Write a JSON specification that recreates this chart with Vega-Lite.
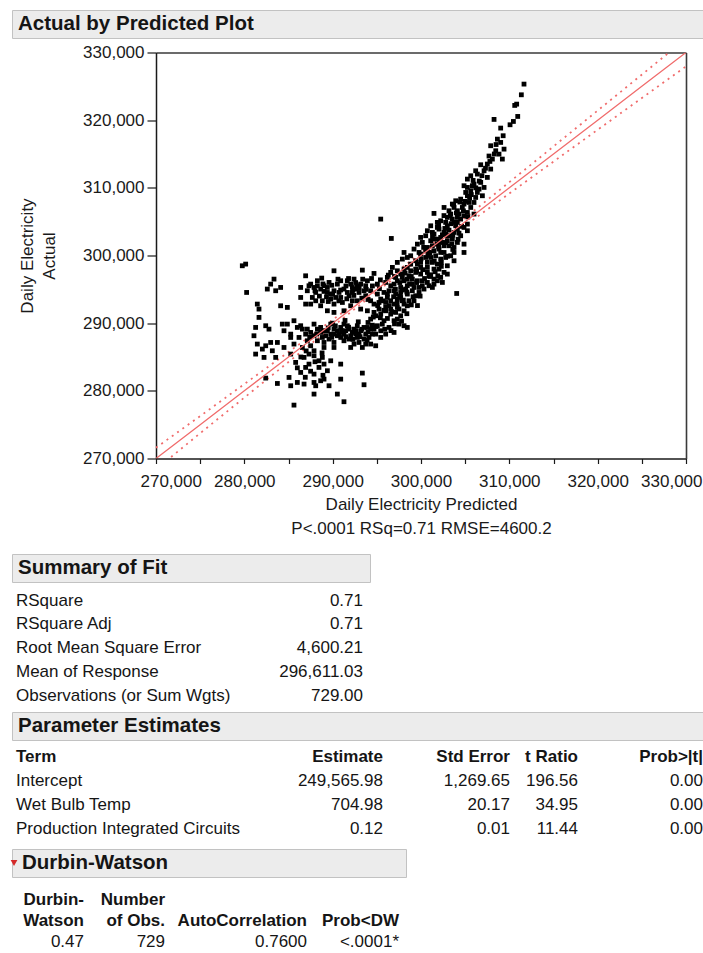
{
  "$schema": "https://vega.github.io/schema/vega-lite/v6.json",
  "background": "white",
  "padding": {"left": 10, "top": 9, "right": 0, "bottom": 0},
  "config": {
    "font": "Liberation Sans",
    "view": {"stroke": null},
    "axis": {"labelFont": "Liberation Sans", "titleFont": "Liberation Sans"},
    "text": {"font": "Liberation Sans", "color": "#151515", "fontSize": 17, "baseline": "middle"}
  },
  "datasets": {
    "obs": [
      {"pred":311660,"act":325330},{"pred":311360,"act":323750},{"pred":310830,"act":322370},{"pred":310610,"act":322180},{"pred":310950,"act":320550},
      {"pred":310460,"act":319810},{"pred":310080,"act":319320},{"pred":308270,"act":320110},{"pred":309020,"act":318830},{"pred":308650,"act":317200},
      {"pred":309020,"act":316710},{"pred":307890,"act":316220},{"pred":309400,"act":315720},{"pred":308460,"act":315480},{"pred":308830,"act":314980},
      {"pred":308080,"act":314250},{"pred":309210,"act":314250},{"pred":307510,"act":313510},{"pred":306760,"act":313410},{"pred":307890,"act":312770},
      {"pred":307140,"act":312520},{"pred":306380,"act":312030},{"pred":305630,"act":311780},{"pred":307510,"act":311540},{"pred":305250,"act":311290},
      {"pred":306760,"act":310800},{"pred":306000,"act":310550},{"pred":307140,"act":310060},{"pred":304870,"act":310310},{"pred":305630,"act":309570},
      {"pred":306380,"act":309320},{"pred":306950,"act":308830},{"pred":305250,"act":308830},{"pred":304490,"act":308330},{"pred":303930,"act":308090},
      {"pred":306000,"act":307840},{"pred":304870,"act":307600},{"pred":303740,"act":307100},{"pred":305630,"act":307100},{"pred":302610,"act":307100},
      {"pred":304120,"act":306610},{"pred":305250,"act":306360},{"pred":303360,"act":306120},{"pred":306000,"act":306120},{"pred":301470,"act":306220},
      {"pred":302980,"act":305630},{"pred":304490,"act":305380},{"pred":302230,"act":305130},{"pred":303740,"act":304890},{"pred":305250,"act":304640},
      {"pred":301100,"act":304390},{"pred":302980,"act":304390},{"pred":301850,"act":304150},{"pred":304120,"act":303900},{"pred":300720,"act":303660},
      {"pred":302610,"act":303410},{"pred":305250,"act":303660},{"pred":301470,"act":303160},{"pred":303360,"act":302920},{"pred":304490,"act":302920},
      {"pred":299960,"act":302670},{"pred":302230,"act":302670},{"pred":301100,"act":302180},{"pred":302980,"act":302180},{"pred":304120,"act":301930},
      {"pred":299590,"act":301680},{"pred":301850,"act":301680},{"pred":300720,"act":301190},{"pred":303740,"act":301190},{"pred":304870,"act":301680},
      {"pred":299210,"act":300950},{"pred":301470,"act":300700},{"pred":302610,"act":300450},{"pred":298080,"act":300450},{"pred":299960,"act":300210},
      {"pred":304870,"act":300450},{"pred":303360,"act":299960},{"pred":301100,"act":299710},{"pred":298450,"act":299710},{"pred":302230,"act":299470},
      {"pred":299400,"act":299220},{"pred":303740,"act":299220},{"pred":300720,"act":298980},{"pred":297320,"act":298980},{"pred":301850,"act":298730},
      {"pred":298830,"act":298730},{"pred":302980,"act":298480},{"pred":299960,"act":298240},{"pred":301470,"act":297990},{"pred":296760,"act":298240},
      {"pred":298080,"act":297990},{"pred":302610,"act":297500},{"pred":299400,"act":297500},{"pred":300720,"act":297500},{"pred":302230,"act":296760},
      {"pred":297700,"act":297250},{"pred":296570,"act":297500},{"pred":295440,"act":305380},{"pred":296640,"act":302520},{"pred":304040,"act":294390},
      {"pred":296190,"act":296760},{"pred":297320,"act":296270},{"pred":298450,"act":296510},{"pred":299590,"act":296270},{"pred":300720,"act":296020},
      {"pred":301850,"act":296270},{"pred":295060,"act":295770},{"pred":296570,"act":295530},{"pred":297700,"act":295280},{"pred":299210,"act":295280},
      {"pred":300340,"act":295040},{"pred":301470,"act":295770},{"pred":294300,"act":294790},{"pred":295810,"act":294540},{"pred":297130,"act":294300},
      {"pred":298450,"act":294300},{"pred":299780,"act":294540},{"pred":295440,"act":293560},{"pred":296570,"act":293310},{"pred":297890,"act":293310},
      {"pred":299210,"act":293310},{"pred":294680,"act":292820},{"pred":296000,"act":292330},{"pred":297320,"act":292330},{"pred":298450,"act":292570},
      {"pred":293930,"act":291830},{"pred":295440,"act":291340},{"pred":296570,"act":291340},{"pred":297700,"act":291090},{"pred":294300,"act":290600},
      {"pred":295810,"act":290360},{"pred":296950,"act":290360},{"pred":295060,"act":289620},{"pred":296380,"act":289370},{"pred":298080,"act":289620},
      {"pred":295440,"act":288880},{"pred":296000,"act":288380},{"pred":296950,"act":288630},{"pred":298450,"act":289370},{"pred":286940,"act":297000},
      {"pred":290150,"act":297740},{"pred":293360,"act":297840},{"pred":294680,"act":297350},{"pred":288760,"act":296660},{"pred":287510,"act":295770},
      {"pred":286380,"act":295280},{"pred":288270,"act":295530},{"pred":289400,"act":295280},{"pred":290530,"act":295770},{"pred":291660,"act":296270},
      {"pred":292420,"act":296510},{"pred":293170,"act":295770},{"pred":293930,"act":296270},{"pred":287130,"act":294790},{"pred":288080,"act":294540},
      {"pred":289020,"act":294690},{"pred":290150,"act":294790},{"pred":291280,"act":295040},{"pred":292230,"act":295280},{"pred":292980,"act":294540},
      {"pred":293740,"act":294050},{"pred":287700,"act":293800},{"pred":288830,"act":293310},{"pred":289780,"act":293560},{"pred":290910,"act":293800},
      {"pred":291850,"act":294050},{"pred":292790,"act":293310},{"pred":287510,"act":292820},{"pred":290150,"act":292820},{"pred":292040,"act":292570},
      {"pred":293170,"act":292080},{"pred":291280,"act":291830},{"pred":289400,"act":291830},{"pred":290150,"act":291590},{"pred":294300,"act":293310},
      {"pred":284870,"act":289860},{"pred":285620,"act":290360},{"pred":286380,"act":289620},{"pred":287130,"act":289120},{"pred":287890,"act":289860},
      {"pred":288640,"act":289370},{"pred":289400,"act":288880},{"pred":290150,"act":289120},{"pred":290910,"act":289370},{"pred":291660,"act":289620},
      {"pred":292420,"act":289120},{"pred":293170,"act":288880},{"pred":293930,"act":289370},{"pred":285250,"act":288380},{"pred":286190,"act":287890},
      {"pred":286940,"act":288380},{"pred":287890,"act":288140},{"pred":288830,"act":287890},{"pred":289780,"act":288380},{"pred":290530,"act":288140},
      {"pred":291280,"act":288380},{"pred":292040,"act":288140},{"pred":292790,"act":287890},{"pred":293550,"act":287650},{"pred":294300,"act":286910},
      {"pred":285620,"act":286910},{"pred":286570,"act":286410},{"pred":287510,"act":286660},{"pred":288270,"act":287400},{"pred":289020,"act":286410},
      {"pred":290150,"act":287150},{"pred":291280,"act":287400},{"pred":292420,"act":286910},{"pred":293360,"act":286410},{"pred":294110,"act":287890},
      {"pred":294870,"act":286660},{"pred":287130,"act":287400},{"pred":284490,"act":288880},{"pred":285250,"act":285430},{"pred":286760,"act":284940},
      {"pred":287890,"act":285180},{"pred":288830,"act":284940},{"pred":289780,"act":284440},{"pred":290910,"act":283950},{"pred":285810,"act":284200},
      {"pred":287320,"act":283950},{"pred":288450,"act":283460},{"pred":289400,"act":282970},{"pred":286380,"act":282720},{"pred":287890,"act":282470},
      {"pred":285060,"act":281980},{"pred":286000,"act":281240},{"pred":286760,"act":281000},{"pred":287890,"act":281240},{"pred":288640,"act":281490},
      {"pred":289590,"act":280750},{"pred":288080,"act":280750},{"pred":290910,"act":281730},{"pred":293360,"act":282620},{"pred":293550,"act":280900},
      {"pred":283740,"act":281090},{"pred":282420,"act":281880},{"pred":285250,"act":280750},{"pred":287890,"act":279520},{"pred":290530,"act":279520},
      {"pred":291280,"act":278390},{"pred":285620,"act":277890},{"pred":289020,"act":281730},{"pred":279770,"act":298480},{"pred":280150,"act":298730},
      {"pred":283360,"act":296510},{"pred":282980,"act":295770},{"pred":283550,"act":294790},{"pred":284110,"act":295280},{"pred":280260,"act":294540},
      {"pred":281470,"act":292820},{"pred":281660,"act":292080},{"pred":284110,"act":292570},{"pred":284870,"act":292330},{"pred":281660,"act":290850},
      {"pred":281280,"act":289370},{"pred":282420,"act":289620},{"pred":282790,"act":289120},{"pred":281090,"act":288140},{"pred":281470,"act":286910},
      {"pred":282980,"act":287150},{"pred":283740,"act":287150},{"pred":282420,"act":286660},{"pred":282040,"act":286170},{"pred":283170,"act":285920},
      {"pred":281280,"act":285430},{"pred":282230,"act":284940},{"pred":283550,"act":284940},{"pred":284490,"act":286410},{"pred":285250,"act":287890},
      {"pred":284300,"act":289860},{"pred":282600,"act":295040},{"pred":286380,"act":293800},{"pred":302980,"act":297250},{"pred":301470,"act":296510},
      {"pred":302420,"act":296020},{"pred":303550,"act":307600},{"pred":304680,"act":307100},{"pred":306190,"act":308580},{"pred":305440,"act":307840},
      {"pred":306570,"act":309810},{"pred":305810,"act":310310},{"pred":305060,"act":309320},{"pred":304300,"act":306120},{"pred":303550,"act":305380},
      {"pred":304870,"act":305870},{"pred":302790,"act":304890},{"pred":303930,"act":304390},{"pred":302040,"act":303900},{"pred":303170,"act":303750},
      {"pred":304870,"act":304150},{"pred":301290,"act":303410},{"pred":302420,"act":303060},{"pred":303740,"act":303410},{"pred":300530,"act":302920},
      {"pred":301850,"act":302420},{"pred":303550,"act":302420},{"pred":300150,"act":301930},{"pred":302420,"act":301930},{"pred":301290,"act":301440},
      {"pred":303170,"act":301440},{"pred":300530,"act":300700},{"pred":302040,"act":300950},{"pred":299780,"act":300450},{"pred":303740,"act":300450},
      {"pred":298830,"act":299960},{"pred":301660,"act":299960},{"pred":300530,"act":299710},{"pred":302790,"act":299710},{"pred":297890,"act":299470},
      {"pred":299960,"act":298980},{"pred":301290,"act":298980},{"pred":298450,"act":298240},{"pred":299400,"act":297990},{"pred":302040,"act":297990},
      {"pred":297320,"act":297740},{"pred":299960,"act":297250},{"pred":301100,"act":297150},{"pred":298640,"act":297000},{"pred":297130,"act":296760},
      {"pred":296000,"act":296020},{"pred":299020,"act":295770},{"pred":300150,"act":295530},{"pred":301290,"act":295280},{"pred":298260,"act":295040},
      {"pred":296950,"act":294790},{"pred":299400,"act":294050},{"pred":296190,"act":293800},{"pred":297700,"act":293800},{"pred":298640,"act":293310},
      {"pred":295250,"act":293060},{"pred":296950,"act":292820},{"pred":298080,"act":291830},{"pred":296000,"act":291830},{"pred":294870,"act":291090},
      {"pred":297320,"act":290600},{"pred":295620,"act":289860},{"pred":294680,"act":289120},{"pred":297510,"act":289860},{"pred":287890,"act":295280},
      {"pred":288640,"act":295040},{"pred":289780,"act":294300},{"pred":290720,"act":294540},{"pred":291660,"act":294540},{"pred":292610,"act":295040},
      {"pred":293550,"act":294790},{"pred":291100,"act":293060},{"pred":292230,"act":293310},{"pred":288640,"act":292570},{"pred":286940,"act":292820},
      {"pred":290530,"act":288880},{"pred":291470,"act":288880},{"pred":292230,"act":288630},{"pred":292980,"act":288380},{"pred":291850,"act":287650},
      {"pred":290910,"act":287890},{"pred":289590,"act":287650},{"pred":288640,"act":288630},{"pred":287510,"act":288630},{"pred":286570,"act":289120},
      {"pred":286000,"act":289370},{"pred":293740,"act":288380},{"pred":294490,"act":288380},{"pred":290150,"act":286410},{"pred":292040,"act":286410},
      {"pred":289020,"act":287150},{"pred":287890,"act":285920},{"pred":287320,"act":285430},{"pred":288450,"act":284440},{"pred":286940,"act":283460},
      {"pred":289020,"act":283950},{"pred":289780,"act":289860},{"pred":291280,"act":289860},{"pred":292790,"act":289620},{"pred":291850,"act":289120},
      {"pred":291100,"act":288630},{"pred":292610,"act":288380},{"pred":293550,"act":289370},{"pred":290150,"act":288380},{"pred":289210,"act":288140},
      {"pred":288270,"act":289120},{"pred":294300,"act":289120},{"pred":294870,"act":288380},{"pred":295440,"act":287890},{"pred":293740,"act":286910},
      {"pred":292980,"act":287150},{"pred":298080,"act":296270},{"pred":299020,"act":296510},{"pred":300150,"act":296270},{"pred":296950,"act":295770},
      {"pred":298450,"act":295530},{"pred":299780,"act":295280},{"pred":300910,"act":295530},{"pred":296380,"act":294790},{"pred":297700,"act":294540},
      {"pred":299020,"act":294790},{"pred":295060,"act":294300},{"pred":297320,"act":293560},{"pred":296000,"act":293060},{"pred":298080,"act":292820},
      {"pred":296570,"act":292080},{"pred":295250,"act":292080},{"pred":297130,"act":291590},{"pred":294680,"act":291590},{"pred":288270,"act":296270},
      {"pred":289590,"act":296020},{"pred":290910,"act":296270},{"pred":292040,"act":295770},{"pred":292790,"act":295530},{"pred":293740,"act":295530},
      {"pred":289020,"act":295530},{"pred":287320,"act":295530},{"pred":289400,"act":294540},{"pred":292230,"act":294540},{"pred":290340,"act":293800},
      {"pred":288080,"act":293310},{"pred":301470,"act":302420},{"pred":302610,"act":301440},{"pred":300910,"act":300450},{"pred":302230,"act":300450},
      {"pred":302980,"act":302920},{"pred":301850,"act":304890},{"pred":304120,"act":305630},{"pred":303170,"act":306610},{"pred":305250,"act":310060},
      {"pred":306190,"act":312520},{"pred":299590,"act":298730},{"pred":300720,"act":298240},{"pred":298830,"act":297740},{"pred":297890,"act":296760},
      {"pred":296300,"act":297100},{"pred":297000,"act":296900},{"pred":297600,"act":296000},{"pred":298200,"act":297400},{"pred":298900,"act":296900},
      {"pred":299500,"act":297700},{"pred":300200,"act":297900},{"pred":300900,"act":297000},{"pred":301600,"act":297600},{"pred":302300,"act":298400},
      {"pred":297100,"act":295000},{"pred":297900,"act":294900},{"pred":298700,"act":295800},{"pred":299500,"act":296000},{"pred":300400,"act":296600},
      {"pred":301000,"act":296900},{"pred":301900,"act":297000},{"pred":296200,"act":294300},{"pred":296900,"act":293900},{"pred":297600,"act":294000},
      {"pred":298400,"act":294600},{"pred":299100,"act":293900},{"pred":299900,"act":294000},{"pred":295700,"act":293300},{"pred":296400,"act":292600},
      {"pred":297300,"act":293000},{"pred":298000,"act":293400},{"pred":298900,"act":292700},{"pred":299600,"act":292600},{"pred":295100,"act":292600},
      {"pred":295800,"act":291900},{"pred":296700,"act":291700},{"pred":297500,"act":292100},{"pred":298400,"act":291400},{"pred":294600,"act":290900},
      {"pred":295400,"act":290800},{"pred":296200,"act":290700},{"pred":297000,"act":289900},{"pred":294000,"act":290100},{"pred":294900,"act":289500},
      {"pred":295900,"act":289100},{"pred":296600,"act":288900},{"pred":297800,"act":290300},
      {"pred":300000,"act":299500},{"pred":300800,"act":300000},{"pred":301500,"act":299200},{"pred":302300,"act":299000},{"pred":303000,"act":299900},
      {"pred":303600,"act":300900},{"pred":300300,"act":301200},{"pred":301000,"act":300400},{"pred":302000,"act":301300},{"pred":302800,"act":301900},
      {"pred":303500,"act":301700},{"pred":304200,"act":302400},{"pred":301300,"act":302800},{"pred":302100,"act":302000},{"pred":302800,"act":303200},
      {"pred":303600,"act":303000},{"pred":304300,"act":303300},{"pred":302000,"act":304500},{"pred":302700,"act":304000},{"pred":303400,"act":304700},
      {"pred":304100,"act":304900},{"pred":304600,"act":304300},{"pred":302600,"act":305900},{"pred":303300,"act":305900},{"pred":304000,"act":306300},
      {"pred":304800,"act":306600},{"pred":305300,"act":305700},{"pred":303700,"act":307500},{"pred":304400,"act":307900},{"pred":305000,"act":308000},
      {"pred":305500,"act":308500},{"pred":305700,"act":309000},{"pred":306200,"act":310000},{"pred":306600,"act":311000},{"pred":305900,"act":311100},
      {"pred":306900,"act":311800},{"pred":307300,"act":312900},{"pred":307800,"act":313900},{"pred":308300,"act":315000},{"pred":307700,"act":314700},
      {"pred":308500,"act":316400},{"pred":309300,"act":317700},
      {"pred":288500,"act":294000},{"pred":289300,"act":293900},{"pred":290000,"act":294300},{"pred":290900,"act":294900},{"pred":291500,"act":295500},
      {"pred":292300,"act":294900},{"pred":293000,"act":295200},{"pred":293800,"act":295000},{"pred":294500,"act":295500},{"pred":295300,"act":295100},
      {"pred":288900,"act":295800},{"pred":289900,"act":295600},{"pred":290600,"act":296500},{"pred":291800,"act":296600},{"pred":292600,"act":296000},
      {"pred":293400,"act":296500},{"pred":294400,"act":296600},{"pred":295400,"act":296400},{"pred":288000,"act":294800},{"pred":289500,"act":293200},
      {"pred":290700,"act":293300},{"pred":291600,"act":293600},{"pred":292400,"act":294100},{"pred":293300,"act":293700},{"pred":294000,"act":293500},
      {"pred":289500,"act":289300},{"pred":290300,"act":289600},{"pred":291000,"act":288900},{"pred":291800,"act":289400},{"pred":292600,"act":288900},
      {"pred":293300,"act":289100},{"pred":294000,"act":288700},{"pred":290700,"act":288300},{"pred":291500,"act":288000},{"pred":292300,"act":287600},
      {"pred":293100,"act":288000},{"pred":293900,"act":287500},{"pred":289900,"act":287900},{"pred":288900,"act":288900},{"pred":290000,"act":290000},
      {"pred":291400,"act":290400},{"pred":292900,"act":290200},{"pred":294500,"act":289700},{"pred":288200,"act":288400},{"pred":287400,"act":287900},
      {"pred":286400,"act":285000},{"pred":287000,"act":285900},{"pred":288000,"act":284300},{"pred":288800,"act":285600},{"pred":286000,"act":283400},
      {"pred":287500,"act":282900},{"pred":288900,"act":282300},{"pred":286900,"act":282000}
    ],
    "curve": [
      {"pred":270000,"fit":270000,"upper":271600,"lower":268400},
      {"pred":275000,"fit":275000,"upper":276270,"lower":273730},
      {"pred":280000,"fit":280000,"upper":281000,"lower":279000},
      {"pred":285000,"fit":285000,"upper":285740,"lower":284260},
      {"pred":290000,"fit":290000,"upper":290500,"lower":289500},
      {"pred":293000,"fit":293000,"upper":293390,"lower":292610},
      {"pred":296611,"fit":296611,"upper":296950,"lower":296270},
      {"pred":300000,"fit":300000,"upper":300390,"lower":299610},
      {"pred":305000,"fit":305000,"upper":305580,"lower":304420},
      {"pred":310000,"fit":310000,"upper":310840,"lower":309160},
      {"pred":315000,"fit":315000,"upper":316120,"lower":313880},
      {"pred":320000,"fit":320000,"upper":321420,"lower":318580},
      {"pred":325000,"fit":325000,"upper":326730,"lower":323270},
      {"pred":330000,"fit":330000,"upper":332050,"lower":327950}
    ],
    "sf": [
      {"row":1,"col":"label","text":"RSquare"},{"row":1,"col":"value","text":"0.71"},
      {"row":2,"col":"label","text":"RSquare Adj"},{"row":2,"col":"value","text":"0.71"},
      {"row":3,"col":"label","text":"Root Mean Square Error"},{"row":3,"col":"value","text":"4,600.21"},
      {"row":4,"col":"label","text":"Mean of Response"},{"row":4,"col":"value","text":"296,611.03"},
      {"row":5,"col":"label","text":"Observations (or Sum Wgts)"},{"row":5,"col":"value","text":"729.00"}
    ],
    "pe": [
      {"row":1,"col":"term","text":"Term","head":true},{"row":1,"col":"est","text":"Estimate","head":true},{"row":1,"col":"se","text":"Std Error","head":true},{"row":1,"col":"tr","text":"t Ratio","head":true},{"row":1,"col":"p","text":"Prob>|t|","head":true},
      {"row":2,"col":"term","text":"Intercept","head":false},{"row":2,"col":"est","text":"249,565.98","head":false},{"row":2,"col":"se","text":"1,269.65","head":false},{"row":2,"col":"tr","text":"196.56","head":false},{"row":2,"col":"p","text":"0.00","head":false},
      {"row":3,"col":"term","text":"Wet Bulb Temp","head":false},{"row":3,"col":"est","text":"704.98","head":false},{"row":3,"col":"se","text":"20.17","head":false},{"row":3,"col":"tr","text":"34.95","head":false},{"row":3,"col":"p","text":"0.00","head":false},
      {"row":4,"col":"term","text":"Production Integrated Circuits","head":false},{"row":4,"col":"est","text":"0.12","head":false},{"row":4,"col":"se","text":"0.01","head":false},{"row":4,"col":"tr","text":"11.44","head":false},{"row":4,"col":"p","text":"0.00","head":false}
    ],
    "dw": [
      {"row":1,"col":"dw","text":"Durbin-","head":true},{"row":1,"col":"n","text":"Number","head":true},
      {"row":2,"col":"dw","text":"Watson","head":true},{"row":2,"col":"n","text":"of Obs.","head":true},{"row":2,"col":"ac","text":"AutoCorrelation","head":true},{"row":2,"col":"p","text":"Prob<DW","head":true},
      {"row":3,"col":"dw","text":"0.47","head":false},{"row":3,"col":"n","text":"729","head":false},{"row":3,"col":"ac","text":"0.7600","head":false},{"row":3,"col":"p","text":"<.0001*","head":false}
    ]
  },
  "spacing": 16,
  "vconcat": [
    {
      "spacing": 4.5,
      "vconcat": [
        {
          "width": 692, "height": 28,
          "view": {"fill": "#ececec", "stroke": "#c2c2c2", "strokeWidth": 1},
          "data": {"values": [{"title": "Actual by Predicted Plot"}]},
          "mark": {"type": "text", "align": "left", "fontSize": 20.5, "fontWeight": "bold"},
          "encoding": {
            "x": {"field": "title", "type": "nominal", "axis": null, "bandPosition": 0, "scale": {"type": "band", "range": [6, 400], "paddingInner": 0, "paddingOuter": 0}},
            "text": {"field": "title"}
          }
        },
        {
          "width": 674, "height": 406,
          "view": {"fill": "white", "stroke": null},
          "resolve": {"axis": {"x": "independent", "y": "independent"}},
          "layer": [
            {
              "encoding": {
                "x": {"field": "pred", "type": "quantitative",
                  "scale": {"domain": [270000, 330000], "range": [144, 674], "nice": false, "zero": false},
                  "axis": {
                    "orient": "bottom",
                    "title": ["Daily Electricity Predicted", "P<.0001 RSq=0.71 RMSE=4600.2"],
                    "values": [270000,275000,280000,285000,290000,295000,300000,305000,310000,315000,320000,325000,330000],
                    "format": ",d",
                    "labelExpr": "datum.value % 10000 === 0 ? datum.label : ''",
                    "tickSize": 5, "tickWidth": 1.2, "tickColor": "#1a1a1a",
                    "domainColor": "#1a1a1a", "domainWidth": 1.5,
                    "labelPadding": 10, "labelFontSize": 17, "labelColor": "#1a1a1a",
                    "labelFlush": true, "labelFlushOffset": 16, "labelOverlap": false,
                    "grid": false,
                    "titleFontSize": 17, "titleFontWeight": "normal", "titleColor": "#1a1a1a",
                    "titleLineHeight": 24.3, "titlePadding": 7
                  }}
              },
              "layer": [
                {
                  "data": {"name": "curve"},
                  "mark": {"type": "line", "color": "#f06c6c", "strokeWidth": 1.8, "strokeDash": [2, 4.5], "clip": true, "interpolate": "monotone"},
                  "encoding": {
                    "y": {"field": "upper", "type": "quantitative",
                      "scale": {"domain": [270000, 330000], "nice": false, "zero": false},
                      "axis": {
                        "orient": "left", "offset": -144,
                        "title": ["Daily Electricity", "Actual"],
                        "values": [270000,275000,280000,285000,290000,295000,300000,305000,310000,315000,320000,325000,330000],
                        "format": ",d",
                        "labelExpr": "datum.value % 10000 === 0 ? datum.label : ''",
                        "tickSize": {"condition": {"test": "datum.value % 10000 === 0", "value": 9}, "value": 5},
                        "tickWidth": 1.2, "tickColor": "#1a1a1a",
                        "domainColor": "#1a1a1a", "domainWidth": 1.5,
                        "labelPadding": 3, "labelFontSize": 17, "labelColor": "#1a1a1a", "labelOverlap": false,
                        "grid": false,
                        "titleFontSize": 17, "titleFontWeight": "normal", "titleColor": "#1a1a1a",
                        "titleLineHeight": 22, "titlePadding": 24
                      }}
                  }
                },
                {
                  "data": {"name": "curve"},
                  "mark": {"type": "line", "color": "#f06c6c", "strokeWidth": 1.8, "strokeDash": [2, 4.5], "clip": true, "interpolate": "monotone"},
                  "encoding": {
                    "y": {"field": "lower", "type": "quantitative"}
                  }
                },
                {
                  "data": {"values": [{"mean": 296611.03}]},
                  "mark": {"type": "rule", "color": "#7596f0", "strokeWidth": 1.8, "strokeDash": [2, 5]},
                  "encoding": {
                    "x": {"datum": 270000, "type": "quantitative"},
                    "x2": {"datum": 330000},
                    "y": {"field": "mean", "type": "quantitative"}
                  }
                },
                {
                  "data": {"name": "obs"},
                  "mark": {"type": "square", "size": 23, "color": "#000000", "opacity": 1},
                  "encoding": {
                    "y": {"field": "act", "type": "quantitative"}
                  }
                }
              ]
            },
            {
              "data": {"name": "curve"},
              "mark": {"type": "line", "color": "#f06c6c", "strokeWidth": 1.3, "clip": true},
              "encoding": {
                "x": {"field": "pred", "type": "quantitative",
                  "axis": {"orient": "top", "labels": false, "ticks": false, "title": null, "grid": false, "domainColor": "#3a3a3a", "domainWidth": 1.6}},
                "y": {"field": "fit", "type": "quantitative",
                  "axis": {"orient": "right", "labels": false, "ticks": false, "title": null, "grid": false, "domainColor": "#3a3a3a", "domainWidth": 1.6}}
              }
            }
          ]
        }
      ]
    },
    {
      "spacing": 5,
      "vconcat": [
        {
          "width": 358, "height": 28,
          "view": {"fill": "#ececec", "stroke": "#c2c2c2", "strokeWidth": 1},
          "data": {"values": [{"title": "Summary of Fit"}]},
          "mark": {"type": "text", "align": "left", "fontSize": 20.5, "fontWeight": "bold"},
          "encoding": {
            "x": {"field": "title", "type": "nominal", "axis": null, "bandPosition": 0, "scale": {"type": "band", "range": [6, 300], "paddingInner": 0, "paddingOuter": 0}},
            "text": {"field": "title"}
          }
        },
        {
          "width": 692, "height": 118,
          "data": {"name": "sf"},
          "resolve": {"scale": {"x": "independent"}},
          "layer": [
            {
              "transform": [{"filter": "datum.col === 'label'"}],
              "mark": {"type": "text", "align": "left"},
              "encoding": {
                "x": {"field": "col", "type": "nominal", "axis": null, "bandPosition": 0, "scale": {"type": "band", "range": [4, 300], "paddingInner": 0, "paddingOuter": 0}},
                "y": {"field": "row", "type": "ordinal", "axis": null, "scale": {"type": "point", "range": [12.7, 107.7], "padding": 0}},
                "text": {"field": "text"}
              }
            },
            {
              "transform": [{"filter": "datum.col === 'value'"}],
              "mark": {"type": "text", "align": "right"},
              "encoding": {
                "x": {"field": "col", "type": "nominal", "axis": null, "bandPosition": 1, "scale": {"type": "band", "range": [0, 351], "paddingInner": 0, "paddingOuter": 0}},
                "y": {"field": "row", "type": "ordinal", "axis": null},
                "text": {"field": "text"}
              }
            }
          ]
        },
        {
          "width": 692, "height": 28,
          "view": {"fill": "#ececec", "stroke": "#c2c2c2", "strokeWidth": 1},
          "data": {"values": [{"title": "Parameter Estimates"}]},
          "mark": {"type": "text", "align": "left", "fontSize": 20.5, "fontWeight": "bold"},
          "encoding": {
            "x": {"field": "title", "type": "nominal", "axis": null, "bandPosition": 0, "scale": {"type": "band", "range": [6, 400], "paddingInner": 0, "paddingOuter": 0}},
            "text": {"field": "title"}
          }
        },
        {
          "width": 692, "height": 97,
          "data": {"name": "pe"},
          "resolve": {"scale": {"x": "independent"}},
          "layer": [
            {
              "transform": [{"filter": "datum.col === 'term'"}],
              "mark": {"type": "text", "align": "left", "fontWeight": {"expr": "datum.head ? 'bold' : 'normal'"}},
              "encoding": {
                "x": {"field": "col", "type": "nominal", "axis": null, "bandPosition": 0, "scale": {"type": "band", "range": [4, 300], "paddingInner": 0, "paddingOuter": 0}},
                "y": {"field": "row", "type": "ordinal", "axis": null, "scale": {"type": "point", "range": [11, 83], "padding": 0}},
                "text": {"field": "text"}
              }
            },
            {
              "transform": [{"filter": "datum.col === 'est'"}],
              "mark": {"type": "text", "align": "right", "fontWeight": {"expr": "datum.head ? 'bold' : 'normal'"}},
              "encoding": {
                "x": {"field": "col", "type": "nominal", "axis": null, "bandPosition": 1, "scale": {"type": "band", "range": [0, 371], "paddingInner": 0, "paddingOuter": 0}},
                "y": {"field": "row", "type": "ordinal", "axis": null},
                "text": {"field": "text"}
              }
            },
            {
              "transform": [{"filter": "datum.col === 'se'"}],
              "mark": {"type": "text", "align": "right", "fontWeight": {"expr": "datum.head ? 'bold' : 'normal'"}},
              "encoding": {
                "x": {"field": "col", "type": "nominal", "axis": null, "bandPosition": 1, "scale": {"type": "band", "range": [0, 498], "paddingInner": 0, "paddingOuter": 0}},
                "y": {"field": "row", "type": "ordinal", "axis": null},
                "text": {"field": "text"}
              }
            },
            {
              "transform": [{"filter": "datum.col === 'tr'"}],
              "mark": {"type": "text", "align": "right", "fontWeight": {"expr": "datum.head ? 'bold' : 'normal'"}},
              "encoding": {
                "x": {"field": "col", "type": "nominal", "axis": null, "bandPosition": 1, "scale": {"type": "band", "range": [0, 566], "paddingInner": 0, "paddingOuter": 0}},
                "y": {"field": "row", "type": "ordinal", "axis": null},
                "text": {"field": "text"}
              }
            },
            {
              "transform": [{"filter": "datum.col === 'p'"}],
              "mark": {"type": "text", "align": "right", "fontWeight": {"expr": "datum.head ? 'bold' : 'normal'"}},
              "encoding": {
                "x": {"field": "col", "type": "nominal", "axis": null, "bandPosition": 1, "scale": {"type": "band", "range": [0, 691], "paddingInner": 0, "paddingOuter": 0}},
                "y": {"field": "row", "type": "ordinal", "axis": null},
                "text": {"field": "text"}
              }
            }
          ]
        },
        {
          "width": 394, "height": 28,
          "view": {"fill": "#ececec", "stroke": "#c2c2c2", "strokeWidth": 1},
          "data": {"values": [{"title": "Durbin-Watson"}]},
          "resolve": {"scale": {"x": "independent"}},
          "layer": [
            {
              "mark": {"type": "text", "align": "left", "fontSize": 20.5, "fontWeight": "bold"},
              "encoding": {
                "x": {"field": "title", "type": "nominal", "axis": null, "bandPosition": 0, "scale": {"type": "band", "range": [10, 390], "paddingInner": 0, "paddingOuter": 0}},
                "text": {"field": "title"}
              }
            },
            {
              "mark": {"type": "point", "shape": "triangle-down", "size": 45, "filled": true, "color": "#d42a2a", "opacity": 1},
              "encoding": {
                "x": {"field": "title", "type": "nominal", "axis": null, "bandPosition": 0, "scale": {"type": "band", "range": [2, 390], "paddingInner": 0, "paddingOuter": 0}}
              }
            }
          ]
        },
        {
          "width": 692, "height": 68,
          "data": {"name": "dw"},
          "resolve": {"scale": {"x": "independent"}},
          "layer": [
            {
              "transform": [{"filter": "datum.col === 'dw'"}],
              "mark": {"type": "text", "align": "right", "fontWeight": {"expr": "datum.head ? 'bold' : 'normal'"}},
              "encoding": {
                "x": {"field": "col", "type": "nominal", "axis": null, "bandPosition": 1, "scale": {"type": "band", "range": [0, 72], "paddingInner": 0, "paddingOuter": 0}},
                "y": {"field": "row", "type": "ordinal", "axis": null, "scale": {"type": "point", "range": [16.5, 59], "padding": 0}},
                "text": {"field": "text"}
              }
            },
            {
              "transform": [{"filter": "datum.col === 'n'"}],
              "mark": {"type": "text", "align": "right", "fontWeight": {"expr": "datum.head ? 'bold' : 'normal'"}},
              "encoding": {
                "x": {"field": "col", "type": "nominal", "axis": null, "bandPosition": 1, "scale": {"type": "band", "range": [0, 153], "paddingInner": 0, "paddingOuter": 0}},
                "y": {"field": "row", "type": "ordinal", "axis": null},
                "text": {"field": "text"}
              }
            },
            {
              "transform": [{"filter": "datum.col === 'ac'"}],
              "mark": {"type": "text", "align": "right", "fontWeight": {"expr": "datum.head ? 'bold' : 'normal'"}},
              "encoding": {
                "x": {"field": "col", "type": "nominal", "axis": null, "bandPosition": 1, "scale": {"type": "band", "range": [0, 295], "paddingInner": 0, "paddingOuter": 0}},
                "y": {"field": "row", "type": "ordinal", "axis": null},
                "text": {"field": "text"}
              }
            },
            {
              "transform": [{"filter": "datum.col === 'p'"}],
              "mark": {"type": "text", "align": "right", "fontWeight": {"expr": "datum.head ? 'bold' : 'normal'"}},
              "encoding": {
                "x": {"field": "col", "type": "nominal", "axis": null, "bandPosition": 1, "scale": {"type": "band", "range": [0, 387], "paddingInner": 0, "paddingOuter": 0}},
                "y": {"field": "row", "type": "ordinal", "axis": null},
                "text": {"field": "text"}
              }
            }
          ]
        }
      ]
    }
  ]
}
